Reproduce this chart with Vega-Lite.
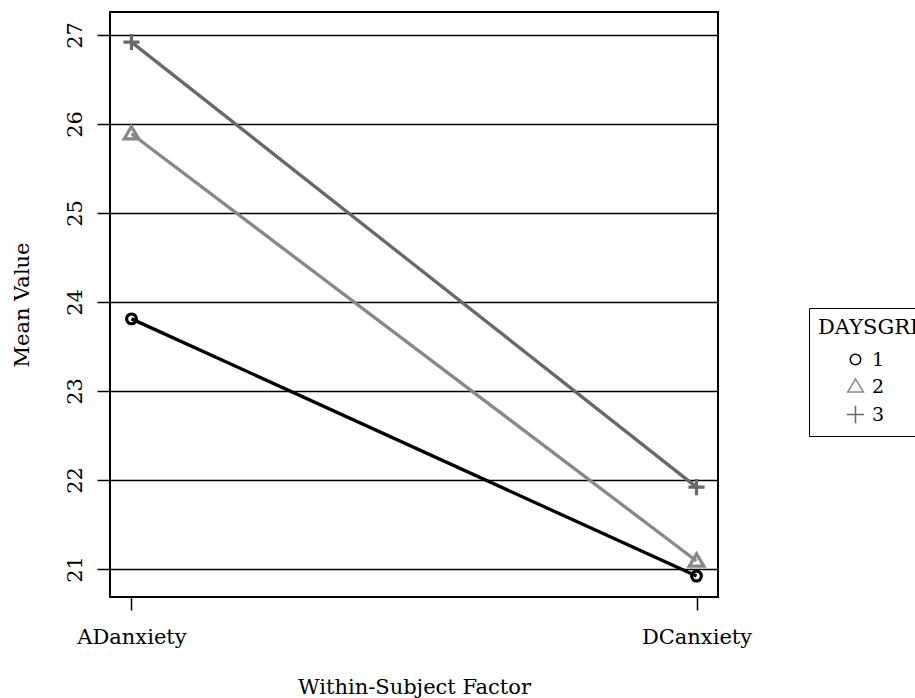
{
  "$schema": "https://vega.github.io/schema/vega-lite/v6.json",
  "width": 608,
  "height": 585,
  "autosize": {"type": "none"},
  "padding": {"left": 110, "top": 12, "right": 197, "bottom": 101},
  "background": "white",
  "config": {
    "font": "DejaVu Serif",
    "view": {"stroke": "black", "strokeWidth": 2}
  },
  "data": {
    "values": [
      {"Factor": "ADanxiety", "Group": "1", "Mean": 23.81},
      {"Factor": "DCanxiety", "Group": "1", "Mean": 20.92},
      {"Factor": "ADanxiety", "Group": "2", "Mean": 25.89},
      {"Factor": "DCanxiety", "Group": "2", "Mean": 21.09},
      {"Factor": "ADanxiety", "Group": "3", "Mean": 26.92},
      {"Factor": "DCanxiety", "Group": "3", "Mean": 21.92}
    ]
  },
  "encoding": {
    "x": {
      "field": "Factor",
      "type": "nominal",
      "sort": ["ADanxiety", "DCanxiety"],
      "scale": {"type": "point", "padding": 0.038},
      "axis": {
        "title": "Within-Subject Factor",
        "labelAngle": 0,
        "labelFontSize": 21,
        "labelColor": "black",
        "labelPadding": 16,
        "titleFontSize": 21,
        "titleFontWeight": "normal",
        "titleColor": "black",
        "titlePadding": 29,
        "tickSize": 13,
        "tickColor": "black",
        "tickWidth": 1.5,
        "domain": false,
        "grid": false
      }
    },
    "y": {
      "field": "Mean",
      "type": "quantitative",
      "scale": {"domain": [20.685, 27.258], "nice": false, "zero": false},
      "axis": {
        "title": "Mean Value",
        "values": [21, 22, 23, 24, 25, 26, 27],
        "labelAngle": -90,
        "labelAlign": "center",
        "labelBaseline": "bottom",
        "labelFontSize": 21,
        "labelColor": "black",
        "labelPadding": 12,
        "titleFontSize": 21,
        "titleFontWeight": "normal",
        "titleColor": "black",
        "titlePadding": 32,
        "tickSize": 13,
        "tickColor": "black",
        "tickWidth": 1.5,
        "domain": false,
        "grid": true,
        "gridColor": "black",
        "gridWidth": 1.5,
        "gridOpacity": 1
      }
    },
    "color": {
      "field": "Group",
      "type": "nominal",
      "scale": {"domain": ["1", "2", "3"], "range": ["#000000", "#888888", "#686868"]},
      "legend": {
        "title": "DAYSGRP",
        "orient": "none",
        "legendX": 699,
        "legendY": 296,
        "strokeColor": "black",
        "padding": 9,
        "titleFontSize": 21,
        "titleFontWeight": "normal",
        "titleColor": "black",
        "titlePadding": 12,
        "labelFontSize": 19,
        "labelColor": "black",
        "labelOffset": 7,
        "symbolStrokeWidth": 1.5,
        "symbolSize": 110,
        "rowPadding": 5,
        "symbolOffset": 28
      }
    }
  },
  "layer": [
    {
      "mark": {"type": "line", "strokeWidth": 3.3},
      "encoding": {"detail": {"field": "Group", "type": "nominal"}}
    },
    {
      "mark": {"type": "point", "filled": false, "strokeWidth": 3.2, "size": 95, "opacity": 1},
      "encoding": {
        "shape": {
          "field": "Group",
          "type": "nominal",
          "scale": {"domain": ["1", "2", "3"], "range": ["circle", "M0,-1.45L1.5,1.05L-1.5,1.05Z", "M-1.65,0H1.65M0,-1.65V1.65"]},
          "legend": {
            "title": "DAYSGRP",
            "orient": "none",
            "legendX": 699,
            "legendY": 296
          }
        }
      }
    }
  ]
}
